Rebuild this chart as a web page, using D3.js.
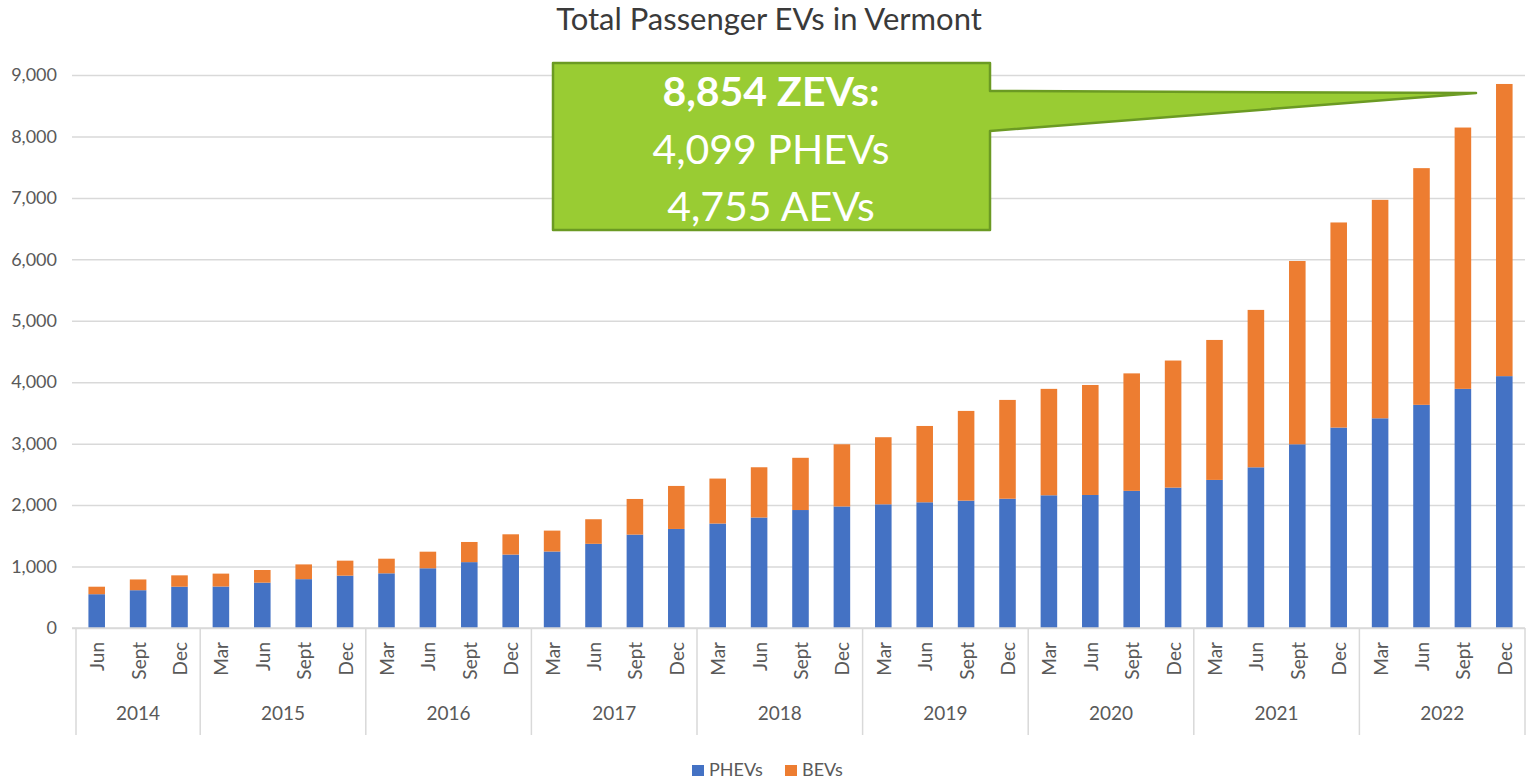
<!DOCTYPE html>
<html>
  <head>
    <meta charset="utf-8" />
    <title>Total Passenger EVs in Vermont</title>
    <script src="https://cdnjs.cloudflare.com/ajax/libs/d3/7.8.5/d3.min.js"></script>
    <style>
      body { margin: 0; background: #fff; }
      svg text { font-family: Lato, "Open Sans", sans-serif; }
    </style>
  </head>
  <body>
    <script>
      // quarters and year groups along the x axis
      const months = [
        "Jun", "Sept", "Dec",
        "Mar", "Jun", "Sept", "Dec",
        "Mar", "Jun", "Sept", "Dec",
        "Mar", "Jun", "Sept", "Dec",
        "Mar", "Jun", "Sept", "Dec",
        "Mar", "Jun", "Sept", "Dec",
        "Mar", "Jun", "Sept", "Dec",
        "Mar", "Jun", "Sept", "Dec",
        "Mar", "Jun", "Sept", "Dec"
      ];
      const years = ["2014", "2015", "2016", "2017", "2018", "2019", "2020", "2021", "2022"];
      const yearCounts = [3, 4, 4, 4, 4, 4, 4, 4, 4];

      const phevs = [
        550, 615, 672, 675, 738, 795, 852, 890, 972, 1072, 1195,
        1245, 1370, 1520, 1612, 1700, 1798, 1920, 1978,
        2013, 2046, 2073, 2104, 2160, 2165, 2232, 2285,
        2410, 2615, 2990, 3262, 3413, 3632, 3892, 4099
      ];
      const bevs = [
        122, 175, 185, 210, 206, 240, 244, 238, 270, 328, 330,
        340, 400, 580, 700, 732, 818, 850, 1012,
        1092, 1242, 1460, 1608, 1732, 1790, 1912, 2068,
        2278, 2562, 2983, 3338, 3555, 3852, 4253, 4755
      ];
      const series = ["PHEVs", "BEVs"];
      const colors = ["#4472c4", "#ed7d31"];
      const yTicks = [0, 1000, 2000, 3000, 4000, 5000, 6000, 7000, 8000, 9000];

      const w = 1529;
      const h = 780;

      const svg = d3.select("body").append("svg")
        .attr("width", w)
        .attr("height", h);

      const xScale = d3.scaleBand()
        .domain(d3.range(months.length))
        .range([76, 1525])
        .paddingInner(0.6)
        .paddingOuter(0.3);

      const yScale = d3.scaleLinear()
        .domain([0, 9000])
        .range([628, 75]);

      // title
      svg.append("text")
        .attr("x", 769)
        .attr("y", 30)
        .attr("text-anchor", "middle")
        .attr("font-size", 31)
        .attr("fill", "#3a3a3a")
        .text("Total Passenger EVs in Vermont");

      // gridlines + y labels
      const yAxis = d3.axisLeft(yScale)
        .tickValues(yTicks)
        .tickSize(-(1525 - 72))
        .tickPadding(15)
        .tickFormat(d3.format(","));

      const gy = svg.append("g")
        .attr("transform", "translate(72,0)")
        .call(yAxis);
      gy.select(".domain").remove();
      gy.selectAll(".tick line").attr("stroke", "#d9d9d9").attr("stroke-width", 1.5);
      gy.selectAll(".tick text")
        .attr("font-size", 18)
        .attr("fill", "#595959")
        .attr("font-family", "Lato, sans-serif");

      // stacked bars
      const rows = months.map((m, i) => ({ i: i, PHEVs: phevs[i], BEVs: bevs[i] }));
      const stacked = d3.stack().keys(series)(rows);

      svg.append("g")
        .selectAll("g")
        .data(stacked)
        .enter()
        .append("g")
        .attr("fill", (d, k) => colors[k])
        .selectAll("rect")
        .data(d => d)
        .enter()
        .append("rect")
        .attr("x", d => xScale(d.data.i))
        .attr("y", d => yScale(d[1]))
        .attr("width", xScale.bandwidth())
        .attr("height", d => yScale(d[0]) - yScale(d[1]));

      // x axis line
      svg.append("line")
        .attr("x1", 72).attr("x2", 1525)
        .attr("y1", yScale(0)).attr("y2", yScale(0))
        .attr("stroke", "#d9d9d9")
        .attr("stroke-width", 1.5);

      // month labels (rotated)
      svg.append("g")
        .selectAll("text")
        .data(months)
        .enter()
        .append("text")
        .attr("transform", (d, i) =>
          "translate(" + (xScale(i) + xScale.bandwidth() / 2) + ",642) rotate(-90)")
        .attr("text-anchor", "end")
        .attr("dominant-baseline", "central")
        .attr("font-size", 19)
        .attr("fill", "#595959")
        .text(d => d);

      // year groups
      const x0 = xScale.range()[0];
      const unit = (xScale.range()[1] - x0) / months.length;
      let start = 0;
      const bounds = [0];
      yearCounts.forEach(n => { start += n; bounds.push(start); });

      svg.append("g")
        .selectAll("line")
        .data(bounds)
        .enter()
        .append("line")
        .attr("x1", d => x0 + d * unit)
        .attr("x2", d => x0 + d * unit)
        .attr("y1", yScale(0))
        .attr("y2", 735)
        .attr("stroke", "#d9d9d9")
        .attr("stroke-width", 1.5);

      svg.append("g")
        .selectAll("text")
        .data(years)
        .enter()
        .append("text")
        .attr("x", (d, k) => x0 + (bounds[k] + bounds[k + 1]) / 2 * unit)
        .attr("y", 720)
        .attr("text-anchor", "middle")
        .attr("font-size", 19)
        .attr("fill", "#595959")
        .text(d => d);

      // legend
      const legend = svg.append("g").attr("transform", "translate(692,765)");
      const legX = [0, 93];
      series.forEach((s, k) => {
        legend.append("rect")
          .attr("x", legX[k]).attr("y", 0)
          .attr("width", 12).attr("height", 11)
          .attr("fill", colors[k]);
        legend.append("text")
          .attr("x", legX[k] + 17).attr("y", 11)
          .attr("font-size", 18)
          .attr("fill", "#595959")
          .text(s);
      });

      // callout pointing at the last bar
      const last = months.length - 1;
      const total = phevs[last] + bevs[last];
      const tipX = xScale(last) - 20;
      const tipY = yScale(total) + 9;
      const bx1 = 553, by1 = 63, bx2 = 990, by2 = 230;

      svg.append("path")
        .attr("d", "M" + bx1 + "," + by1 + "H" + bx2 + "V91L" + tipX + "," + tipY +
          "L" + bx2 + ",131V" + by2 + "H" + bx1 + "Z")
        .attr("fill", "#99cc33")
        .attr("stroke", "#6b9a23")
        .attr("stroke-width", 2.5)
        .attr("stroke-linejoin", "round");

      const fmt = d3.format(",");
      const lines = [
        { t: fmt(total) + " ZEVs:", y: 106, b: true },
        { t: fmt(phevs[last]) + " PHEVs", y: 164, b: false },
        { t: fmt(bevs[last]) + " AEVs", y: 221, b: false }
      ];
      svg.append("g")
        .selectAll("text")
        .data(lines)
        .enter()
        .append("text")
        .attr("x", 771)
        .attr("y", d => d.y)
        .attr("text-anchor", "middle")
        .attr("font-size", 41)
        .attr("font-weight", d => d.b ? "bold" : "normal")
        .attr("fill", "#ffffff")
        .text(d => d.t);
    </script>
  </body>
</html>
